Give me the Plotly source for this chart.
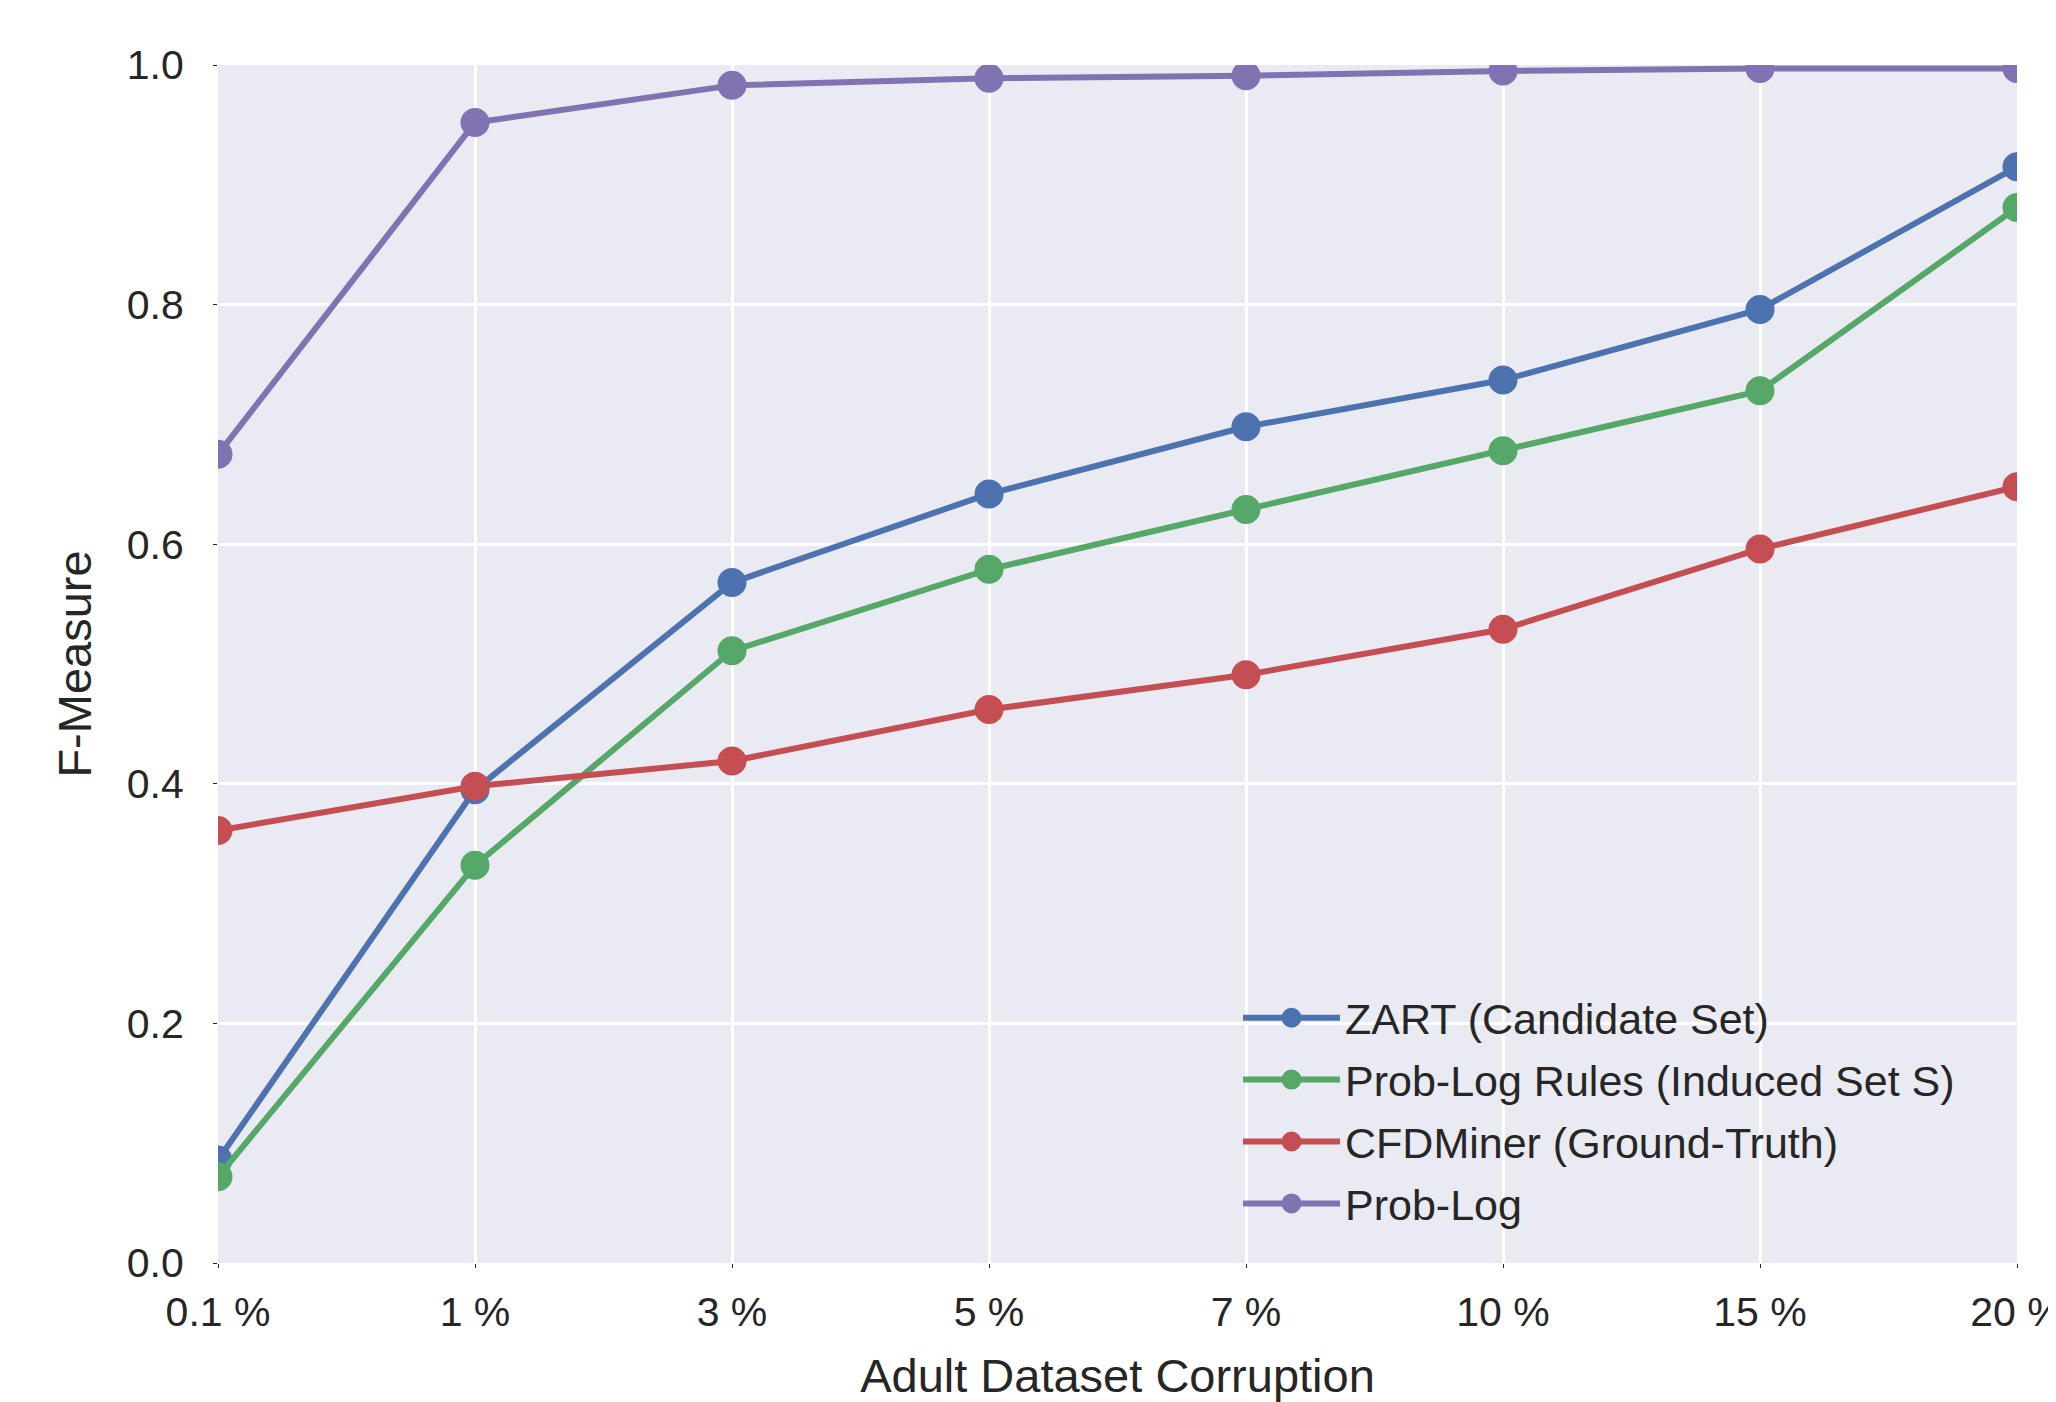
import plotly.graph_objects as go

categories = ["0.1 %", "1 %", "3 %", "5 %", "7 %", "10 %", "15 %", "20 %"]
zart = [0.086, 0.395, 0.568, 0.642, 0.698, 0.737, 0.796, 0.915]
prob_log_rules = [0.072, 0.332, 0.511, 0.579, 0.629, 0.678, 0.728, 0.881]
cfdminer = [0.361, 0.398, 0.419, 0.462, 0.491, 0.529, 0.596, 0.648]
prob_log = [0.675, 0.952, 0.983, 0.989, 0.991, 0.995, 0.997, 0.997]

series_names = ["ZART (Candidate Set)", "Prob-Log Rules (Induced Set S)",
                "CFDMiner (Ground-Truth)", "Prob-Log"]
series_values = [zart, prob_log_rules, cfdminer, prob_log]
colors = ["#4C72B0", "#55A868", "#C44E52", "#8172B2"]

text_color = "#262626"
font_family = "Liberation Sans, Arial, sans-serif"

fig = go.Figure()
for i, (name, vals, col) in enumerate(zip(series_names, series_values, colors)):
    fig.add_trace(go.Scatter(
        x=list(range(len(categories))), y=vals, name=name, mode="lines+markers",
        line=dict(color=col, width=6),
        marker=dict(color=col, size=25, line=dict(color=col, width=4)),
        cliponaxis=True, legendgroup=f"g{i}",
    ))

# page body has an 8px margin, so the figure is drawn 8px smaller
fig.update_layout(
    width=2048, height=1394,
    margin=dict(l=210, r=39, t=57, b=139, autoexpand=False),
    paper_bgcolor="white", plot_bgcolor="#EAEAF2",
    font=dict(family=font_family, color=text_color, size=41),
    showlegend=True,
    legend=dict(
        x=0.567, y=0.2335, xanchor="left", yanchor="top",
        bgcolor="rgba(0,0,0,0)", font=dict(size=43, color=text_color),
        itemwidth=97, tracegroupgap=3,
    ),
    xaxis=dict(
        range=[0, len(categories) - 1],
        tickmode="array", tickvals=list(range(len(categories))), ticktext=categories,
        showgrid=True, gridcolor="white", gridwidth=2.5,
        zeroline=False, showline=False,
        ticks="outside", ticklen=4, tickcolor=text_color, tickwidth=1,
        tickfont=dict(size=41, color=text_color),
        ticklabeloverflow="allow", ticklabelstandoff=9,
        title=dict(text="Adult Dataset Corruption", font=dict(size=47, color=text_color), standoff=39),
    ),
    yaxis=dict(
        range=[0, 1], dtick=0.2, tickformat=".1f",
        showgrid=True, gridcolor="white", gridwidth=2.5,
        zeroline=False, showline=False,
        ticks="outside", ticklen=4, tickcolor=text_color, tickwidth=1,
        tickfont=dict(size=41, color=text_color),
        ticklabelstandoff=21,
        title=dict(text="F-Measure", font=dict(size=47, color=text_color), standoff=20),
    ),
)

fig.write_html("out.html")
